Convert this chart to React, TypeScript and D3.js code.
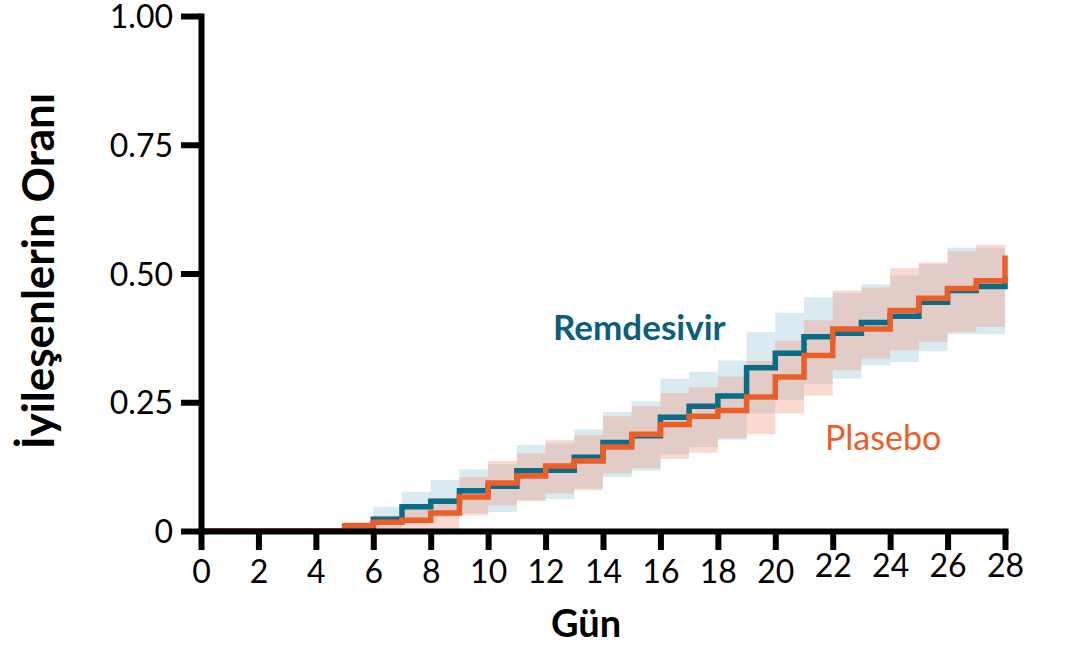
import React, { useEffect, useRef } from 'react';
import * as d3 from 'd3';

// gün 0..28, each value holds from that day to the next
const days = d3.range(0, 29);

const remdesivir = [
  0, 0, 0, 0, 0, 0, 0.023, 0.047, 0.058, 0.078, 0.087, 0.117, 0.118, 0.143, 0.172,
  0.185, 0.221, 0.242, 0.262, 0.317, 0.345, 0.377, 0.384, 0.405, 0.417, 0.444, 0.467,
  0.475, 0.493,
];
const remdesivirLow = [
  0, 0, 0, 0, 0, 0, 0.003, 0.012, 0.027, 0.035, 0.037, 0.06, 0.062, 0.083, 0.105, 0.117,
  0.149, 0.163, 0.177, 0.228, 0.255, 0.286, 0.296, 0.322, 0.328, 0.349, 0.382, 0.382, 0.382,
];
const remdesivirHigh = [
  0, 0, 0, 0, 0, 0, 0.047, 0.076, 0.099, 0.12, 0.13, 0.167, 0.17, 0.197, 0.231, 0.252,
  0.296, 0.309, 0.331, 0.386, 0.424, 0.454, 0.462, 0.479, 0.496, 0.518, 0.55, 0.55, 0.55,
];

const plasebo = [
  0, 0, 0, 0, 0, 0.01, 0.017, 0.021, 0.035, 0.066, 0.093, 0.107, 0.126, 0.136, 0.163,
  0.188, 0.207, 0.223, 0.234, 0.26, 0.299, 0.341, 0.392, 0.392, 0.428, 0.452, 0.471,
  0.486, 0.535,
];
const plaseboLow = [
  0, 0, 0, 0, 0, 0, 0, 0, 0, 0.03, 0.05, 0.058, 0.073, 0.079, 0.112, 0.122, 0.14, 0.152,
  0.18, 0.188, 0.228, 0.263, 0.312, 0.335, 0.351, 0.367, 0.386, 0.396, 0.396,
];
const plaseboHigh = [
  0, 0, 0, 0, 0, 0.018, 0.03, 0.043, 0.064, 0.105, 0.136, 0.151, 0.176, 0.186, 0.223,
  0.242, 0.268, 0.279, 0.3, 0.33, 0.37, 0.409, 0.467, 0.473, 0.51, 0.522, 0.543, 0.556,
  0.556,
];

const xTicks = d3.range(0, 29, 2);
const yTicks = [0, 0.25, 0.5, 0.75, 1];

const TEAL = '#086b87';
const ORANGE = '#ec5e28';
const FONT = 'Lato, sans-serif';

function Chart() {
  const ref = useRef<any>(null);
  const dims = { width: 1066, height: 646 };

  useEffect(() => {
    const svg = d3.select(ref.current);
    svg.selectAll('*').remove();

    const x = d3.scaleLinear().domain([0, 28]).range([201, 1005]);
    const y = d3.scaleLinear().domain([0, 1]).range([531, 16]);

    const band = (lo: number[], hi: number[]) =>
      d3
        .area<number>()
        .curve(d3.curveStepAfter)
        .x((d) => x(d))
        .y0((d, i) => y(lo[i]))
        .y1((d, i) => y(hi[i]));

    const line = (v: number[]) =>
      d3
        .line<number>()
        .curve(d3.curveStepAfter)
        .x((d) => x(d))
        .y((d, i) => y(v[i]));

    // güven aralıkları
    svg.append('path').datum(days).attr('d', band(remdesivirLow, remdesivirHigh)).attr('fill', '#d9eaf1');
    svg
      .append('path')
      .datum(days)
      .attr('d', band(plaseboLow, plaseboHigh))
      .attr('fill', '#f09e87')
      .attr('fill-opacity', 0.39);

    svg
      .append('path')
      .datum(days)
      .attr('d', line(remdesivir))
      .attr('fill', 'none')
      .attr('stroke', TEAL)
      .attr('stroke-width', 5.5);
    svg
      .append('path')
      .datum(days)
      .attr('d', line(plasebo))
      .attr('fill', 'none')
      .attr('stroke', ORANGE)
      .attr('stroke-width', 5.5);

    // axes
    const gx = svg
      .append('g')
      .attr('transform', `translate(0,${y(0)})`)
      .call(d3.axisBottom(x).tickValues(xTicks).tickSize(19).tickSizeOuter(0).tickPadding(8));
    const gy = svg
      .append('g')
      .attr('transform', `translate(${x(0)},0)`)
      .call(
        d3
          .axisLeft(y)
          .tickValues(yTicks)
          .tickSize(20)
          .tickSizeOuter(0)
          .tickPadding(8)
          .tickFormat((d: any) => (d === 0 ? '0' : d3.format('.2f')(d)))
      );
    [gx, gy].forEach((g) => {
      g.select('.domain').attr('stroke', '#000').attr('stroke-width', 6).attr('stroke-linecap', 'square');
      g.selectAll('.tick line').attr('stroke', '#000').attr('stroke-width', 6);
      g.selectAll('.tick text').attr('fill', '#000').style('font-family', FONT).style('font-size', '32px');
    });
    gx.selectAll('.tick text').attr('dy', (d: any) => (d >= 22 ? '0.6em' : '0.78em'));
    gy.selectAll('.tick text').attr('dy', '0.36em');

    svg
      .append('text')
      .attr('x', 586)
      .attr('y', 637)
      .attr('text-anchor', 'middle')
      .style('font-family', FONT)
      .style('font-weight', 'bold')
      .style('font-size', '38px')
      .text('Gün');

    svg
      .append('text')
      .attr('transform', 'translate(54,271) rotate(-90)')
      .attr('text-anchor', 'middle')
      .style('font-family', FONT)
      .style('font-weight', 'bold')
      .style('font-size', '44px')
      .text('İyileşenlerin Oranı');

    svg
      .append('text')
      .attr('x', 553)
      .attr('y', 340)
      .attr('fill', '#0b5f7a')
      .style('font-family', FONT)
      .style('font-weight', 'bold')
      .style('font-size', '35px')
      .text('Remdesivir');

    svg
      .append('text')
      .attr('x', 825)
      .attr('y', 450)
      .attr('fill', ORANGE)
      .style('font-family', FONT)
      .style('font-size', '34px')
      .text('Plasebo');
  });

  return (
    <svg
      ref={ref}
      width={dims.width}
      height={dims.height}
      style={{ position: 'absolute', left: 0, top: 0, background: '#fff' }}
    ></svg>
  );
}

export default function App() {
  return <Chart />;
}
